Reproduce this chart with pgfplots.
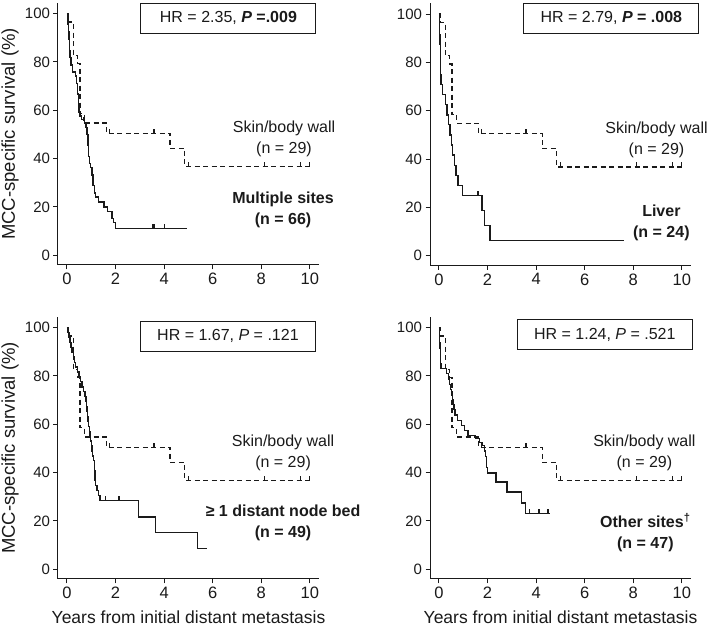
\documentclass[border=0pt]{standalone}
\usepackage{pgfplots}
\pgfplotsset{compat=1.18}
\usepackage{pgfplotstable}
\usepackage{fontspec}
\setmainfont{Liberation Sans}
\pgfdeclareplotmark{cens}{\pgfpathmoveto{\pgfpointorigin}\pgfpathlineto{\pgfpoint{0pt}{4.5pt}}\pgfusepathqstroke}
\definecolor{ink}{HTML}{1A1A1A}

\pgfplotstableread{
x y
0 100
0.05 96.6
0.27 82.8
0.44 79.3
0.54 58.6
0.73 54.8
1.63 50.5
4.25 44.3
4.85 36.8
10.0 36.8
}\skintab
\pgfplotstableread{
x y
1.75 50.5
3.58 50.5
5.0 36.8
8.15 36.8
9.63 36.8
10.0 36.8
}\skincens

\pgfplotstableread{
x y
0 100
0.02 98.5
0.04 95.5
0.06 92.4
0.08 89.4
0.10 84.8
0.12 81.8
0.16 78.8
0.22 75.8
0.36 74.2
0.40 71.2
0.44 66.7
0.47 62.1
0.50 59.1
0.53 57.6
0.60 56.1
0.72 54.5
0.78 53.0
0.82 50.0
0.86 45.5
0.89 40.9
0.93 37.9
0.98 36.4
1.03 33.3
1.07 28.8
1.12 25.8
1.18 24.2
1.30 22.1
1.52 20.0
1.68 18.2
1.86 15.2
1.92 13.6
2.0 11.0
4.95 11.0
}\multitab
\pgfplotstableread{
x y
0.70 55.5
3.53 11.0
3.58 11.0
4.01 11.0
}\multicens

\pgfplotstableread{
x y
0 100
0.02 95.8
0.03 91.7
0.04 87.5
0.05 83.3
0.06 79.2
0.07 75.0
0.08 70.8
0.15 66.7
0.26 62.5
0.33 58.3
0.40 54.2
0.45 50.0
0.52 45.8
0.56 41.7
0.65 37.5
0.70 33.3
0.78 29.2
0.98 25.0
1.77 18.75
1.88 12.5
2.10 6.25
7.61 6.25
}\livertab
\pgfplotstableread{
x y
1.61 25.0
}\livercens

\pgfplotstableread{
x y
0 100
0.04 98.0
0.08 95.9
0.12 93.9
0.16 91.8
0.20 89.8
0.26 87.8
0.30 85.7
0.35 83.7
0.42 81.6
0.50 79.6
0.55 77.6
0.62 75.5
0.68 73.5
0.74 71.4
0.78 69.4
0.80 67.3
0.83 65.3
0.85 63.3
0.87 61.2
0.89 59.2
0.92 57.1
0.95 55.1
0.98 53.1
1.01 51.0
1.03 49.0
1.06 46.9
1.09 44.9
1.12 40.8
1.15 36.7
1.18 34.7
1.24 32.7
1.29 30.6
1.36 28.4
2.94 21.7
3.64 15.2
5.37 8.7
5.78 8.7
}\nodebedtab
\pgfplotstableread{
x y
1.57 28.4
2.14 28.4
}\nodebedcens

\pgfplotstableread{
x y
0 100
0.01 97.9
0.02 95.7
0.03 93.6
0.04 91.5
0.05 89.4
0.06 87.2
0.07 85.1
0.08 83.0
0.30 80.9
0.40 78.7
0.44 76.6
0.48 74.5
0.52 72.3
0.55 70.2
0.58 68.1
0.62 66.0
0.66 63.8
0.75 61.7
0.92 59.6
1.05 57.4
1.20 55.3
1.50 54.0
1.68 52.6
1.80 51.2
1.88 48.9
1.92 46.6
1.95 44.3
1.97 42.0
2.00 39.9
2.35 36.1
2.80 32.0
3.39 27.5
3.56 23.0
4.59 23.0
}\othertab
\pgfplotstableread{
x y
3.74 23.0
4.12 23.0
4.49 23.0
}\othercens

\pgfplotsset{
 kmaxis/.style={
  scale only axis, width=261pt, height=262pt,
  xmin=-0.37, xmax=10.38, ymin=-4, ymax=104.4,
  axis x line=bottom, axis y line=left,
  axis line style={-, line width=1pt, ink},
  xtick={0,2,...,10}, ytick={0,20,...,100},
  tick align=outside, major tick length=4.5pt,
  tick style={line width=1pt, ink},
  clip=false,
  xticklabel style={font=\fontsize{16.5}{18}\selectfont, ink},
  yticklabel style={font=\fontsize{15}{17}\selectfont, ink},
  /pgf/number format/assume math mode=true,
  xlabel style={font=\fontsize{17.5}{20}\selectfont, ink, at={(rel axis cs:0.5,-0.147)}, anchor=center},
  ylabel style={font=\fontsize{18.5}{20}\selectfont, ink, at={(rel axis cs:-0.184,0.5)}, anchor=center},
 },
 solidkm/.style={const plot, line width=1.35pt, ink, no marks},
 dashkm/.style={const plot, line width=1.35pt, ink, dash pattern=on 5pt off 3.5pt, no marks},
 cmark/.style={only marks, mark=cens, line width=1.2pt, ink},
}
\tikzset{
 hrbox/.style={draw=ink, line width=0.9pt, minimum width=175pt, minimum height=30pt, inner sep=0pt, text=ink, font=\fontsize{16}{18}\selectfont},
 lab/.style={align=center, text=ink, font=\fontsize{16}{21}\selectfont},
}

\begin{document}
\begin{tikzpicture}
\path[use as bounding box] (0pt,0pt) rectangle (709pt,628pt);

% Panel 1
\begin{axis}[kmaxis, at={(58pt,363pt)}, anchor=south west, ylabel={MCC-specific survival (\%)}]
\addplot[solidkm] table[x=x,y=y] {\multitab};
\addplot[cmark] table[x=x,y=y] {\multicens};
\addplot[dashkm] table[x=x,y=y] {\skintab};
\addplot[cmark] table[x=x,y=y] {\skincens};
\node[hrbox] at (axis cs:6.65,98.2) {HR = 2.35, \textbf{\textit{P} =.009}};
\node[lab] at (axis cs:8.94,48.1) {Skin/body wall\\(n = 29)};
\node[lab] at (axis cs:8.9,18.7) {\textbf{Multiple sites}\\\textbf{(n = 66)}};
\end{axis}

% Panel 2
\begin{axis}[kmaxis, at={(430pt,362.5pt)}, anchor=south west]
\addplot[solidkm] table[x=x,y=y] {\livertab};
\addplot[cmark] table[x=x,y=y] {\livercens};
\addplot[dashkm] table[x=x,y=y] {\skintab};
\addplot[cmark] table[x=x,y=y] {\skincens};
\node[hrbox] at (axis cs:7.1,98.4) {HR = 2.79, \textbf{\textit{P} = .008}};
\node[lab] at (axis cs:8.96,48.1) {Skin/body wall\\(n = 29)};
\node[lab] at (axis cs:9.16,13.6) {\textbf{Liver}\\\textbf{(n = 24)}};
\end{axis}

% Panel 3
\begin{axis}[kmaxis, at={(58pt,49pt)}, anchor=south west, ylabel={MCC-specific survival (\%)}, xlabel={Years from initial distant metastasis}]
\addplot[solidkm] table[x=x,y=y] {\nodebedtab};
\addplot[cmark] table[x=x,y=y] {\nodebedcens};
\addplot[dashkm] table[x=x,y=y] {\skintab};
\addplot[cmark] table[x=x,y=y] {\skincens};
\node[hrbox] at (axis cs:6.63,96.5) {HR = 1.67, \textit{P} = .121};
\node[lab] at (axis cs:8.9,48.1) {Skin/body wall\\(n = 29)};
\node[lab] at (axis cs:8.9,19.1) {\textbf{≥ 1 distant node bed}\\\textbf{(n = 49)}};
\end{axis}

% Panel 4
\begin{axis}[kmaxis, at={(430pt,49pt)}, anchor=south west, xlabel={Years from initial distant metastasis}]
\addplot[solidkm] table[x=x,y=y] {\othertab};
\addplot[cmark] table[x=x,y=y] {\othercens};
\addplot[dashkm] table[x=x,y=y] {\skintab};
\addplot[cmark] table[x=x,y=y] {\skincens};
\node[hrbox] at (axis cs:6.83,97.1) {HR = 1.24, \textit{P} = .521};
\node[lab] at (axis cs:8.46,48.1) {Skin/body wall\\(n = 29)};
\node[lab] at (axis cs:8.5,15.1) {\textbf{Other sites\textsuperscript{†}}\\\textbf{(n = 47)}};
\end{axis}
\end{tikzpicture}
\end{document}
